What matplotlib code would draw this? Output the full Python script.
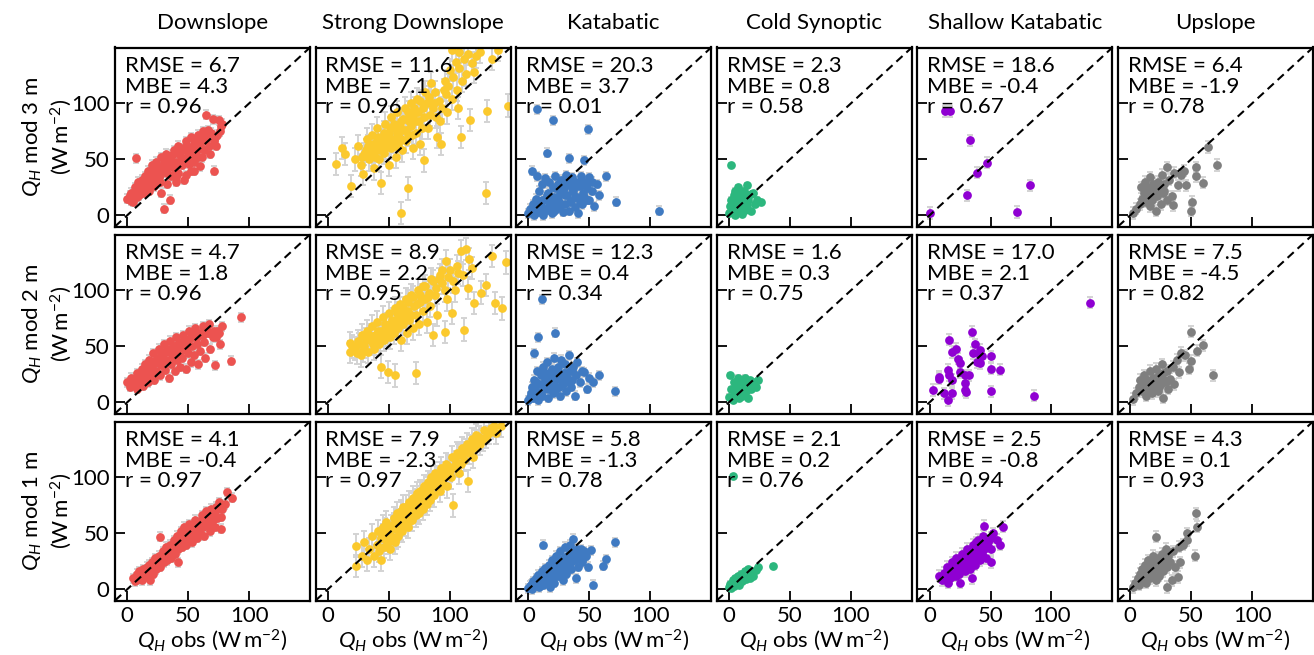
import matplotlib.pyplot as plt
import numpy as np

plt.rcParams['font.family'] = ['Lato', 'DejaVu Sans']
plt.rcParams['mathtext.fontset'] = 'custom'
plt.rcParams['mathtext.rm'] = 'Lato'
plt.rcParams['mathtext.it'] = 'Lato:italic'

regimes = ['Downslope', 'Strong Downslope', 'Katabatic', 'Cold Synoptic', 'Shallow Katabatic', 'Upslope']
heights = ['3 m', '2 m', '1 m']
colors = ['#ec5350', '#fbc92d', '#3f7ac2', '#2cb77e', '#8f00d2', '#7f7f7f']

# stats per (height, regime): RMSE, MBE, r
rmse = [[6.7, 11.6, 20.3, 2.3, 18.6, 6.4],
        [4.7, 8.9, 12.3, 1.6, 17.0, 7.5],
        [4.1, 7.9, 5.8, 2.1, 2.5, 4.3]]
mbe = [[4.3, 7.1, 3.7, 0.8, -0.4, -1.9],
       [1.8, 2.2, 0.4, 0.3, 2.1, -4.5],
       [-0.4, -2.3, -1.3, 0.2, -0.8, 0.1]]
corr = [[0.96, 0.96, 0.01, 0.58, 0.67, 0.78],
        [0.96, 0.95, 0.34, 0.75, 0.37, 0.82],
        [0.97, 0.97, 0.78, 0.76, 0.94, 0.93]]

# typical model spread (error bar half-length) per regime
spread = [4, 10, 4, 2, 5, 5]

# (obs, mod) pairs
down_3m = [(0,15),(2,18),(3,13),(5,20),(5,12),(7,51),(8,22),(8,16),(10,28),(10,18),(12,25),(12,32),(14,20),(15,35),(15,27),
           (17,40),(18,22),(18,30),(20,45),(20,33),(22,26),(22,38),(24,48),(25,30),(25,42),(27,36),(28,52),(28,20),(30,40),
           (30,6),(30,47),(32,55),(33,28),(34,44),(35,14),(35,50),(36,35),(38,58),(38,42),(40,48),(40,30),(42,62),(42,38),
           (44,52),(45,45),(46,60),(47,32),(48,66),(50,50),(50,56),(52,40),(52,70),(54,60),(55,48),(56,66),(58,52),(58,72),
           (60,62),(60,44),(62,75),(63,58),(65,90),(65,68),(66,76),(68,55),(70,86),(71,40),(72,70),(73,62),(75,85),(76,75),(78,82),
           (3,20),(6,25),(9,30),(11,22),(13,28),(16,32),(19,36),(21,28),(23,42),(26,34),(29,44),(31,50),(33,38),(36,46),(37,54),
           (39,38),(41,56),(43,46),(45,58),(47,50),(49,62),(51,46),(53,54),(55,64),(57,58),(59,68),(61,52),(62,66),(64,72),
           (67,62),(69,74),(71,66),(74,72),(77,80),(48,36),(40,34),(55,40),(4,16),(7,19),(17,26),(27,30)]
strong_3m = [(7,46),(12,60),(14,55),(19,26),(22,50),(25,62),(27,45),(29,37),(30,55),(32,68),(34,50),(35,60),(36,72),(38,42),
             (38,58),(40,66),(40,78),(42,50),(43,62),(44,29),(45,70),(46,56),(47,82),(48,64),(50,45),(50,74),(52,60),(52,88),
             (54,68),(55,78),(56,52),(57,92),(58,64),(58,72),(60,2),(60,84),(61,58),(62,76),(63,96),(64,66),(65,86),(66,24),
             (66,72),(68,80),(68,100),(70,60),(70,90),(72,74),(73,104),(75,84),(76,64),(78,96),(79,49),(80,110),(82,78),(84,90),
             (85,118),(87,100),(90,70),(92,84),(93,64),(95,112),(96,120),(98,92),(100,130),(102,104),(105,137),(107,96),(109,70),
             (110,120),(112,140),(115,144),(117,85),(120,128),(125,146),(130,20),(131,93),(135,140),(140,148),(148,98),
             (28,52),(31,58),(33,62),(36,54),(37,64),(39,52),(41,70),(42,58),(44,66),(46,74),(47,60),(49,70),(51,78),(53,66),
             (54,82),(56,62),(57,74),(59,80),(60,68),(62,86),(64,76),(66,92),(67,84),(69,72),(71,96),(72,84),(74,92),(76,102),
             (77,78),(79,88),(81,100),(83,106),(86,96),(88,110),(89,88),(91,102),(94,96),(97,108),(99,116),(103,124),(106,112),
             (108,132),(113,126),(118,136),(122,142),(102,148),(108,146)]
kata_3m = [(0,2),(2,5),(3,40),(4,10),(5,0),(6,15),(7,35),(7,95),(8,3),(9,22),(10,8),(11,28),(12,0),(13,14),(14,33),(15,56),
           (15,5),(16,20),(17,30),(18,10),(19,2),(20,85),(20,25),(21,16),(22,35),(23,6),(24,28),(25,12),(26,20),(27,32),(28,3),
           (29,24),(30,10),(31,36),(32,18),(33,51),(33,4),(34,28),(35,13),(36,34),(37,22),(38,7),(39,30),(40,16),(41,2),(42,26),
           (43,35),(44,10),(45,20),(46,49),(47,30),(48,14),(49,77),(50,34),(52,22),(54,8),(56,28),(58,18),(64,35),(72,12),(107,4),
           (1,6),(3,2),(5,8),(7,12),(9,4),(11,14),(13,6),(15,18),(17,8),(19,14),(21,4),(22,24),(24,16),(26,8),(28,26),(30,18),
           (32,28),(34,12),(36,24),(38,16),(40,26),(42,12),(44,30),(46,16),(48,24),(50,14),(52,30),(20,12),(25,28),(30,30)]
cold_3m = [(0,2),(1,8),(2,45),(2,14),(3,4),(4,18),(4,10),(5,22),(5,0),(6,6),(7,15),(7,25),(8,3),(8,11),(9,20),(10,8),(10,16),
           (11,1),(12,12),(12,22),(13,5),(14,18),(15,27),(15,9),(16,14),(18,4),(18,19),(20,20),(21,10),(23,14),(26,12),
           (3,12),(6,18),(9,14),(11,6),(14,12)]
shallow_3m = [(0,2),(13,93),(17,93),(31,18),(33,67),(39,38),(47,47),(72,3),(82,27)]
up_3m = [(2,2),(5,6),(8,10),(9,25),(10,15),(11,20),(12,30),(13,12),(14,18),(15,24),(16,8),(16,34),(17,20),(18,14),(19,28),
         (20,22),(21,4),(22,17),(23,30),(24,24),(25,10),(26,36),(27,20),(28,28),(30,43),(30,14),(32,32),(34,17),(35,9),(36,38),
         (39,27),(42,36),(44,40),(46,27),(50,4),(51,12),(54,35),(54,43),(60,29),(64,61),(71,45),
         (10,12),(12,14),(14,22),(16,18),(18,24),(20,18),(22,26),(24,20),(26,26),(28,22)]

down_2m = [(0,18),(2,14),(3,22),(5,16),(6,20),(8,12),(8,26),(10,18),(11,24),(12,30),(13,15),(14,22),(15,34),(16,27),(17,18),
           (18,38),(19,24),(20,30),(21,44),(22,20),(23,35),(24,28),(25,40),(26,48),(27,24),(28,33),(29,42),(30,52),(31,29),
           (32,38),(33,46),(34,22),(35,55),(36,34),(37,42),(38,50),(39,28),(40,58),(41,38),(42,46),(43,32),(44,54),(45,40),
           (46,60),(47,48),(48,30),(49,56),(50,44),(51,64),(52,36),(53,50),(54,58),(55,42),(56,66),(57,52),(58,34),(59,60),
           (60,46),(62,68),(63,54),(64,40),(66,62),(67,70),(68,48),(70,58),(72,33),(74,64),(76,52),(78,68),(85,37),(93,76),
           (4,19),(7,17),(9,22),(12,20),(14,28),(17,30),(19,33),(22,36),(24,38),(26,36),(28,44),(30,38),(32,46),(34,48),
           (36,44),(38,40),(40,48),(42,52),(44,46),(46,52),(48,50),(50,56),(52,58),(55,60),(57,58),(60,62),(62,60),(65,66),
           (68,62),(71,64),(73,58),(75,62)]
strong_2m = [(18,53),(18,45),(22,48),(25,55),(27,42),(28,60),(30,50),(32,64),(33,45),(35,56),(36,68),(38,48),(39,60),(40,72),
             (42,52),(44,32),(44,64),(45,76),(46,56),(48,68),(49,27),(50,80),(51,58),(52,70),(54,62),(55,24),(55,84),(56,74),
             (58,66),(59,88),(60,56),(61,78),(62,70),(64,92),(65,62),(66,82),(67,74),(68,96),(70,66),(71,86),(72,26),(72,78),
             (74,100),(75,70),(76,90),(78,82),(80,104),(81,72),(82,94),(84,86),(85,110),(86,60),(88,96),(90,78),(92,114),
             (94,107),(96,63),(97,126),(98,92),(100,118),(102,80),(104,100),(107,116),(109,135),(112,65),(113,137),(115,102),
             (118,120),(120,89),(126,98),(130,105),(135,131),(137,89),(143,84),(146,125),
             (20,50),(24,44),(26,52),(29,46),(31,56),(34,60),(37,52),(40,58),(41,64),(43,56),(45,62),(47,70),(49,60),(50,66),
             (53,74),(55,68),(57,80),(60,72),(62,84),(63,76),(66,90),(68,78),(70,94),(73,88),(76,96),(78,104),(80,92),(83,98),
             (86,108),(89,102),(91,110),(94,118),(96,100),(99,112),(103,108),(106,122),(111,114),(116,128)]
kata_2m = [(0,2),(2,8),(3,14),(4,4),(5,44),(5,20),(6,10),(7,28),(8,58),(8,2),(9,16),(10,24),(11,92),(11,6),(12,32),(13,12),
           (14,20),(15,36),(16,4),(17,26),(18,14),(19,30),(20,8),(21,40),(22,62),(22,20),(23,12),(24,32),(25,22),(26,6),(27,38),
           (28,16),(29,26),(30,34),(31,10),(32,22),(33,42),(34,28),(35,14),(36,20),(37,32),(38,6),(39,24),(40,36),(42,18),
           (44,28),(46,27),(48,12),(50,22),(53,18),(58,24),(71,10),
           (1,5),(4,12),(6,18),(9,8),(12,16),(14,26),(16,12),(18,22),(20,16),(23,26),(25,14),(27,20),(30,26),(33,18),(36,28)]
cold_2m = [(0,5),(1,24),(2,12),(3,2),(4,18),(5,8),(6,14),(7,22),(8,4),(9,10),(10,18),(11,6),(12,14),(13,22),(14,10),(15,16),
           (16,4),(17,20),(18,12),(20,18),(22,14),(24,20)]
shallow_2m = [(132,89),(86,6),(58,29),(50,41),(50,30),(50,10),(35,63),(37,52),(36,44),(41,47),(41,42),(43,41),(39,36),(41,35),
              (32,24),(29,24),(25,27),(16,56),(22,48),(18,45),(23,39),(25,35),(15,29),(16,24),(18,20),(8,23),(8,21),(3,11),
              (12,8),(15,2),(18,8),(29,17),(29,11),(30,9)]
up_2m = [(2,3),(5,8),(7,14),(8,20),(10,10),(11,24),(12,16),(13,6),(14,20),(15,12),(16,28),(17,18),(18,8),(19,22),(20,14),
         (21,30),(22,18),(23,10),(24,24),(25,16),(26,34),(27,4),(28,20),(30,28),(31,12),(33,21),(35,32),(36,16),(38,38),
         (40,27),(42,44),(45,42),(48,30),(50,37),(50,63),(55,46),(60,51),(68,24),
         (9,12),(12,20),(15,18),(18,16),(21,22),(24,14),(27,26),(29,18)]

down_1m = [(5,10),(6,7),(8,14),(9,9),(10,12),(11,16),(12,8),(13,18),(14,12),(15,15),(16,20),(17,11),(18,22),(19,8),(19,16),
           (20,24),(21,14),(22,20),(23,28),(24,18),(25,22),(26,30),(27,47),(27,20),(28,26),(29,34),(30,24),(31,30),(32,38),
           (33,26),(34,34),(35,40),(36,28),(37,36),(38,44),(39,32),(40,40),(41,48),(42,24),(42,36),(43,44),(44,52),(45,38),
           (46,46),(47,56),(48,40),(49,50),(50,44),(51,58),(52,48),(53,42),(54,56),(55,50),(56,62),(57,46),(58,54),(59,60),
           (60,50),(61,66),(62,56),(63,48),(64,62),(65,70),(66,58),(67,64),(68,52),(69,72),(70,62),(71,68),(72,56),(73,74),
           (74,64),(75,78),(77,65),(77,54),(78,72),(80,76),(82,87),(86,82),
           (7,11),(10,16),(12,13),(14,18),(16,16),(18,18),(20,20),(22,24),(24,26),(26,24),(28,30),(30,30),(32,32),(34,30),
           (36,36),(38,38),(40,44),(42,42),(44,42),(46,50),(48,48),(50,52),(52,52),(54,52),(56,54),(58,58),(60,60),(62,62),
           (64,58),(66,66),(68,66),(70,70),(72,70),(74,72),(76,74)]
strong_1m = [(23,39),(23,21),(28,30),(30,42),(32,26),(34,36),(36,48),(38,30),(40,40),(41,52),(42,34),(44,26),(44,46),(45,56),
             (46,38),(48,44),(48,60),(50,50),(51,36),(52,56),(53,46),(54,64),(55,42),(56,54),(57,68),(58,48),(59,60),(60,70),
             (61,52),(62,64),(63,58),(64,74),(65,66),(66,56),(67,78),(68,70),(69,62),(70,82),(71,72),(72,66),(73,86),(74,76),
             (75,68),(76,88),(77,80),(78,72),(79,92),(80,84),(81,76),(82,96),(83,88),(84,80),(85,100),(86,92),(87,84),(88,104),
             (90,96),(92,88),(93,108),(95,100),(97,112),(98,92),(100,106),(102,118),(103,75),(104,110),(106,122),(108,104),
             (110,126),(112,116),(114,130),(115,97),(116,122),(118,134),(120,126),(122,138),(125,130),(128,142),(130,136),
             (134,144),(138,140),(142,146),
             (45,48),(47,54),(49,42),(52,48),(54,58),(56,46),(58,62),(60,54),(62,74),(64,64),(66,70),(68,62),(70,76),(72,80),
             (74,70),(76,82),(78,86),(80,78),(82,90),(84,94),(86,84),(88,96),(90,100),(92,104),(94,94),(96,104),(99,110),
             (101,100),(105,114),(107,120),(109,112),(111,122),(113,124),(117,128),(119,118),(121,132),(124,136),(127,134),
             (132,140),(136,146)]
kata_1m = [(0,1),(2,4),(3,0),(4,7),(5,3),(6,10),(7,5),(8,13),(9,2),(10,8),(11,16),(12,40),(12,4),(13,11),(14,19),(15,7),
           (16,14),(17,22),(18,2),(18,10),(19,26),(20,16),(21,6),(22,20),(23,30),(24,12),(25,24),(26,34),(27,18),(28,8),
           (29,28),(30,38),(30,22),(31,14),(32,30),(33,24),(34,40),(35,18),(36,32),(37,45),(38,26),(39,10),(40,36),(41,20),
           (42,30),(44,24),(46,34),(49,20),(51,35),(53,4),(61,21),(64,27),(71,42),
           (1,3),(3,5),(5,6),(7,9),(9,12),(11,10),(13,16),(15,12),(17,18),(19,14),(21,18),(23,22),(25,18),(27,26),(29,20),
           (31,26),(33,32),(35,24),(37,28),(39,34),(41,30),(43,36),(45,28),(47,30),(20,10),(25,14),(30,16)]
cold_1m = [(0,2),(1,5),(2,1),(3,8),(3,101),(4,3),(5,10),(6,6),(7,12),(8,4),(9,9),(10,14),(11,7),(12,11),(13,16),(14,9),
           (15,13),(16,18),(17,10),(18,15),(20,12),(22,17),(24,20),(36,21)]
shallow_1m = [(8,12),(10,8),(12,15),(13,10),(14,20),(15,6),(16,14),(17,18),(18,24),(19,12),(20,16),(21,22),(22,28),(23,18),
              (24,14),(25,26),(26,20),(27,32),(28,24),(29,16),(30,30),(30,22),(31,36),(32,26),(33,18),(34,32),(35,28),(36,40),
              (37,22),(38,34),(39,30),(40,44),(41,26),(42,38),(43,32),(44,48),(45,57),(45,36),(46,28),(48,42),(50,36),(52,50),
              (55,44),(58,40),(60,56),(35,10),(25,6),(50,24),
              (15,12),(17,10),(20,22),(22,12),(24,20),(26,26),(28,18),(28,30),(30,26),(32,34),(34,24),(36,30),(38,28),(40,36),
              (42,34),(44,40),(46,42),(48,38),(50,46),(38,42),(33,28)]
up_1m = [(2,2),(4,6),(6,10),(7,4),(8,14),(9,8),(10,18),(11,12),(12,22),(13,6),(14,16),(15,26),(16,10),(17,20),(18,14),
         (19,30),(20,24),(21,47),(21,8),(22,18),(23,28),(24,12),(25,22),(26,32),(27,16),(28,26),(29,36),(30,2),(30,20),
         (31,30),(33,24),(34,8),(35,34),(37,20),(39,11),(40,38),(41,24),(43,40),(47,44),(47,50),(53,30),(54,68),(55,56),
         (10,12),(13,18),(16,22),(19,20),(22,26),(25,18),(28,22)]

grid = [[down_3m, strong_3m, kata_3m, cold_3m, shallow_3m, up_3m],
        [down_2m, strong_2m, kata_2m, cold_2m, shallow_2m, up_2m],
        [down_1m, strong_1m, kata_1m, cold_1m, shallow_1m, up_1m]]

W, H = 1314, 655
fig = plt.figure(figsize=(W / 100, H / 100), dpi=100)

fs = 16
for r in range(3):
    for c in range(6):
        left = 115 + c * 200.6
        top = 47.5 + r * 187
        ax = fig.add_axes([left / W, 1 - (top + 179) / H, 195 / W, 179 / H])
        pts = np.array(grid[r][c], dtype=float)
        x, y = pts[:, 0], pts[:, 1]
        ax.errorbar(x, y, yerr=spread[c], fmt='none', ecolor='#d3d3d3', elinewidth=1.4, capsize=2.5, capthick=1.4, zorder=1)
        ax.plot(x, y, 'o', ms=6.3, color=colors[c], mec='none', zorder=2)
        ax.plot([-10, 150], [-10, 150], color='k', ls=(0, (4, 2.5)), lw=1.5, zorder=3)
        ax.text(0.05, 0.95, 'RMSE = %.1f\nMBE = %.1f\nr = %.2f' % (rmse[r][c], mbe[r][c], corr[r][c]),
                transform=ax.transAxes, ha='left', va='top', fontsize=fs, linespacing=1.02, zorder=4)
        ax.set_xlim(-10, 150)
        ax.set_ylim(-10, 150)
        ax.set_xticks([0, 50, 100])
        ax.set_yticks([0, 50, 100])
        ax.tick_params(direction='in', length=7, width=1.3, labelsize=fs, pad=4)
        for s in ax.spines.values():
            s.set_linewidth(1.6)
        if c == 0:
            ax.set_ylabel('$Q_H$ mod %s\n(W$\\,$m$^{-2}$)' % heights[r], fontsize=fs, labelpad=-2)
        else:
            ax.set_yticklabels([])
        if r == 2:
            ax.set_xlabel('$Q_H$ obs (W$\\,$m$^{-2}$)', fontsize=fs, labelpad=1)
        else:
            ax.set_xticklabels([])
        if r == 0:
            ax.set_title(regimes[c], fontsize=fs, pad=13)

fig.savefig('out.png', dpi=100)
